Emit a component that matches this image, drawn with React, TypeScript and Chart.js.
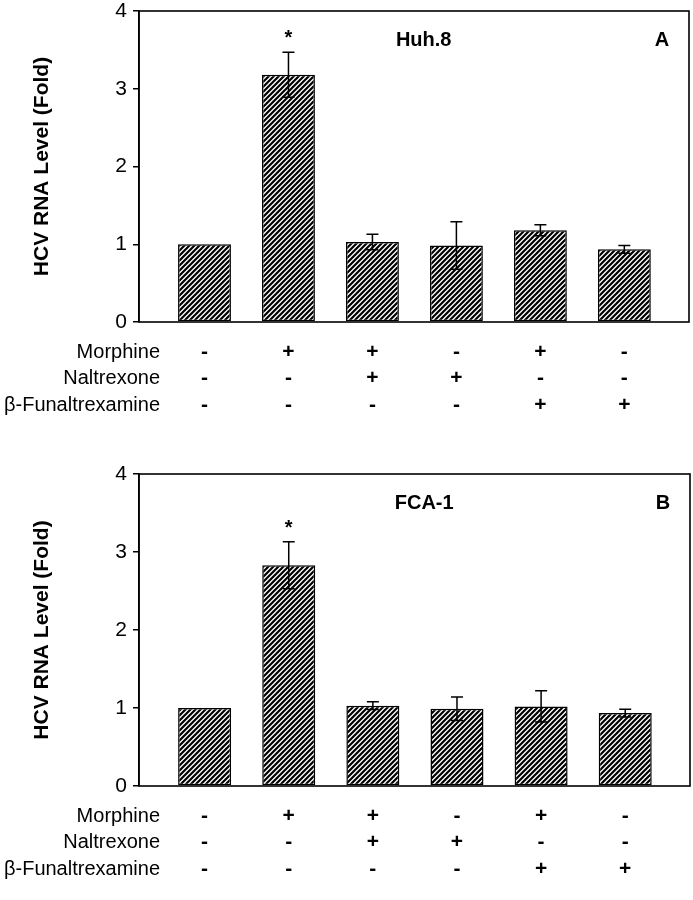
import React, { useEffect, useRef } from 'react';
import { Chart, registerables } from 'chart.js';
Chart.register(...registerables);

// ---- data ----
const conditionLabels = ['Morphine', 'Naltrexone', 'β-Funaltrexamine'];
const morphineSigns = ['-', '+', '+', '-', '+', '-'];
const naltrexoneSigns = ['-', '-', '+', '+', '-', '-'];
const funaltrexamineSigns = ['-', '-', '-', '-', '+', '+'];
const yTickValues = [0, 1, 2, 3, 4];
const xPositions = [0, 1, 2, 3, 4, 5];

const huhValues = [1.0, 3.18, 1.03, 0.985, 1.18, 0.935];
const huhErrors = [0, 0.29, 0.1, 0.305, 0.07, 0.05];
const fcaValues = [1.0, 2.83, 1.03, 0.99, 1.02, 0.935];
const fcaErrors = [0, 0.3, 0.05, 0.15, 0.2, 0.05];
const significant = [false, true, false, false, false, false];

const FONT = '"Liberation Sans", Arial, Helvetica, sans-serif';

function makeHatch(): CanvasPattern | string {
  const s = 5;
  const c = document.createElement('canvas');
  c.width = s;
  c.height = s;
  const g = c.getContext('2d');
  if (!g) return '#888';
  g.fillStyle = '#fff';
  g.fillRect(0, 0, s, s);
  g.strokeStyle = '#000';
  g.lineWidth = 2.2;
  g.beginPath();
  for (const off of [-s, 0, s]) {
    g.moveTo(-1 + off, s + 1);
    g.lineTo(s + 1 + off, -1);
  }
  g.stroke();
  return g.createPattern(c, 'repeat') || '#888';
}

function makeAnnot(values: number[], errors: number[], title: string, letter: string) {
  return {
    id: 'annot_' + letter,
    afterDatasetsDraw(chart: any) {
      const { ctx, chartArea: ca, scales } = chart;
      const x = scales.x;
      const y = scales.y;
      ctx.save();
      ctx.strokeStyle = '#000';
      ctx.fillStyle = '#000';
      // error bars + significance
      ctx.lineWidth = 1.5;
      values.forEach((v, i) => {
        const e = errors[i];
        const px = x.getPixelForValue(xPositions[i]);
        const t = y.getPixelForValue(v + e);
        if (e > 0) {
          const b = y.getPixelForValue(v - e);
          ctx.beginPath();
          ctx.moveTo(px, t);
          ctx.lineTo(px, b);
          ctx.moveTo(px - 6, t);
          ctx.lineTo(px + 6, t);
          ctx.moveTo(px - 6, b);
          ctx.lineTo(px + 6, b);
          ctx.stroke();
        }
        if (significant[i]) {
          ctx.font = `bold 20px ${FONT}`;
          ctx.textAlign = 'center';
          ctx.textBaseline = 'alphabetic';
          ctx.fillText('*', px, t - 8);
        }
      });
      // frame
      ctx.lineWidth = 1.6;
      ctx.strokeRect(ca.left, ca.top, ca.right - ca.left, ca.bottom - ca.top);
      // in-plot titles
      ctx.font = `bold 20px ${FONT}`;
      ctx.textBaseline = 'middle';
      ctx.textAlign = 'center';
      ctx.fillText(title, x.getPixelForValue(2.61), ca.top + 29);
      ctx.fillText(letter, ca.right - 27, ca.top + 29);
      // table
      const rows = [morphineSigns, naltrexoneSigns, funaltrexamineSigns];
      const rowOffsets = [30, 56.5, 83];
      rows.forEach((signs, r) => {
        const ry = ca.bottom + rowOffsets[r];
        ctx.font = `20px ${FONT}`;
        ctx.textAlign = 'right';
        ctx.fillText(conditionLabels[r], ca.left + 21, ry);
        ctx.font = `bold 21px ${FONT}`;
        ctx.textAlign = 'center';
        signs.forEach((s, i) => {
          ctx.fillText(s, x.getPixelForValue(xPositions[i]), ry);
        });
      });
      ctx.restore();
    },
  };
}

function buildChart(
  canvas: HTMLCanvasElement,
  values: number[],
  errors: number[],
  title: string,
  letter: string,
  padding: { top: number; bottom: number; right: number }
) {
  const hatch = makeHatch();
  return new Chart(canvas, {
    type: 'bar',
    data: {
      datasets: [
        {
          data: values.map((v, i) => ({ x: xPositions[i], y: v })),
          backgroundColor: hatch as any,
          borderColor: '#000',
          borderWidth: 1.5,
          borderSkipped: false,
          barPercentage: 0.63,
          categoryPercentage: 1,
        },
      ],
    },
    options: {
      animation: false,
      responsive: false,
      maintainAspectRatio: false,
      layout: { padding: { left: 0, right: padding.right, top: padding.top, bottom: padding.bottom } },
      plugins: { legend: { display: false }, tooltip: { enabled: false } },
      scales: {
        x: {
          type: 'linear',
          display: false,
          offset: false,
          min: -0.78,
          max: 5.77,
          afterBuildTicks: (scale: any) => {
            scale.ticks = xPositions.map((v) => ({ value: v }));
          },
          grid: { offset: false },
        },
        y: {
          min: 0,
          max: 4,
          afterBuildTicks: (scale: any) => {
            scale.ticks = yTickValues.map((v) => ({ value: v }));
          },
          afterFit: (scale: any) => {
            scale.width = 139;
            scale.paddingTop = 0;
            scale.paddingBottom = 0;
          },
          ticks: {
            color: '#000',
            padding: 6,
            font: { family: FONT, size: 21, lineHeight: 1.0 },
          },
          grid: {
            drawOnChartArea: false,
            drawTicks: true,
            tickLength: 6,
            color: '#000',
            lineWidth: 1.5,
          },
          border: { display: true, color: '#000', width: 1.6 },
          title: {
            display: true,
            text: 'HCV RNA Level (Fold)',
            color: '#000',
            font: { family: FONT, size: 21, weight: 'bold', lineHeight: 1.2 },
            padding: { top: 30, bottom: 0 },
          },
        },
      },
    } as any,
    plugins: [makeAnnot(values, errors, title, letter)],
  });
}

export default function App() {
  const refA = useRef<HTMLCanvasElement>(null);
  const refB = useRef<HTMLCanvasElement>(null);

  useEffect(() => {
    document.body.style.margin = '0';
    if (!refA.current || !refB.current) return;
    const a = buildChart(refA.current, huhValues, huhErrors, 'Huh.8', 'A', { top: 11, bottom: 118, right: 4 });
    const b = buildChart(refB.current, fcaValues, fcaErrors, 'FCA-1', 'B', { top: 34, bottom: 114, right: 3 });
    return () => {
      a.destroy();
      b.destroy();
    };
  }, []);

  return (
    <div style={{ width: 693, height: 900, background: '#fff' }}>
      <canvas ref={refA} width={693} height={440} style={{ display: 'block', width: 693, height: 440 }} />
      <canvas ref={refB} width={693} height={460} style={{ display: 'block', width: 693, height: 460 }} />
    </div>
  );
}
